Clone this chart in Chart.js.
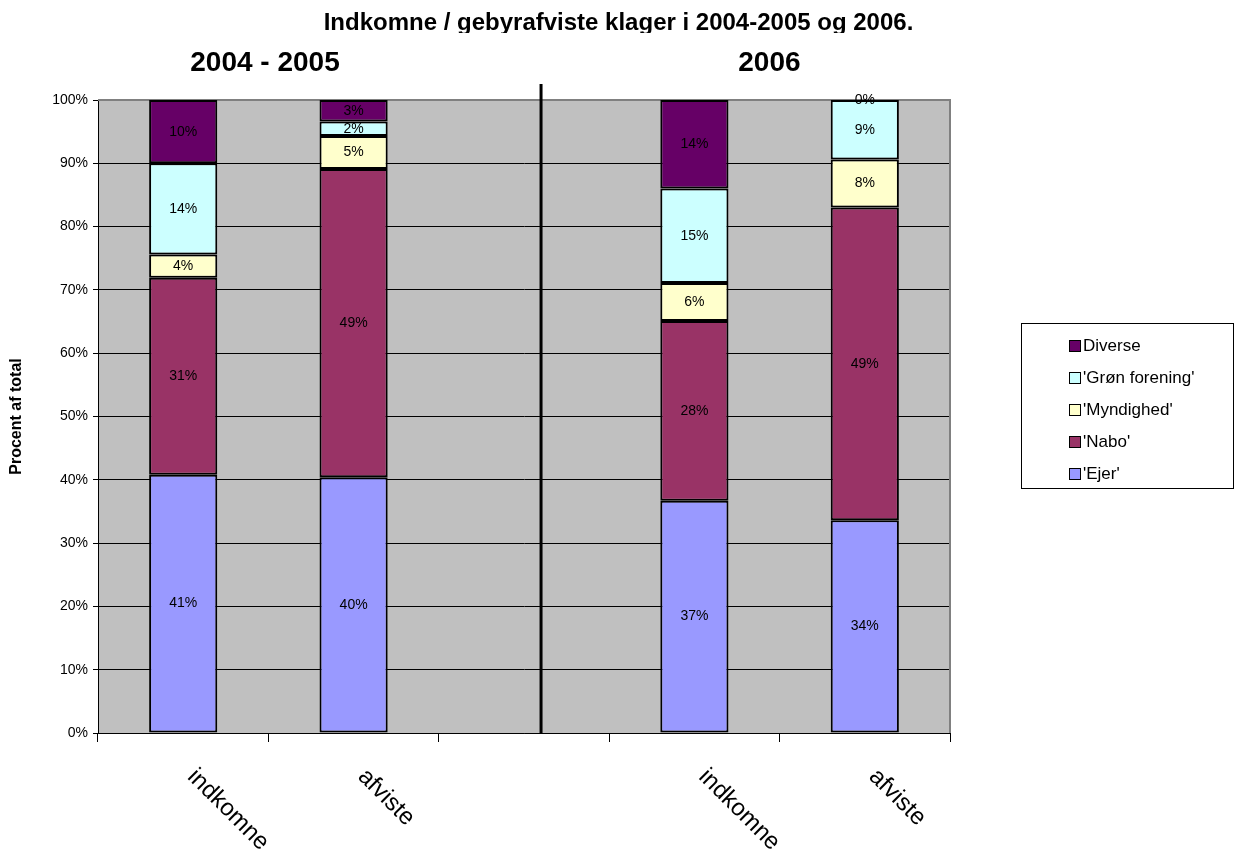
<!DOCTYPE html>
<html><head><meta charset="utf-8">
<script src="https://cdn.jsdelivr.net/npm/chart.js@4/dist/chart.umd.min.js"></script>
<style>html,body{margin:0;padding:0;background:#fff}#wrap{width:1235px;height:857px}</style>
</head><body><div id="wrap"><canvas id="c" width="1235" height="857"></canvas></div>
<script>
// ---- data ----
const categories = ['indkomne', 'afviste', '', 'indkomne', 'afviste'];
const groupLabels = ['2004 - 2005', '2006'];
const seriesNames = ["'Ejer'", "'Nabo'", "'Myndighed'", "'Grøn forening'", 'Diverse'];
const ejer      = [40.8, 40.4, null, 36.7, 33.6];
const nabo      = [31.1, 48.7, null, 28.4, 49.4];
const myndighed = [3.7,  5.2,  null, 6.0,  7.6];
const groen     = [14.4, 2.3,  null, 14.9, 9.4];
const diverse   = [10.0, 3.4,  null, 14.0, 0.0];
const yTickValues = [0, 10, 20, 30, 40, 50, 60, 70, 80, 90, 100];
const titleText = 'Indkomne / gebyrafviste klager i 2004-2005 og 2006.';
const yAxisTitle = 'Procent af total';

// ---- styles / layout ----
const colors = ['#9999FF', '#993366', '#FFFFCC', '#CCFFFF', '#660066'];
const groupLabelAt = [0.48, 3.44];   // position in category units
const dividerAt = 2.1;               // position in category units
const FONT = 'Arial, "Liberation Sans", sans-serif';

const seriesValues = [ejer, nabo, myndighed, groen, diverse];
const datasets = seriesValues.map((vals, i) => ({
  label: seriesNames[i],
  data: vals,
  backgroundColor: colors[i],
  borderColor: '#000',
  borderWidth: 2,
  borderSkipped: false,
  categoryPercentage: 0.4,
  barPercentage: 1.0
}));

const decorPlugin = {
  id: 'decor',
  beforeDraw(chart) {
    const {ctx, chartArea: a} = chart;
    ctx.save();
    ctx.fillStyle = '#C0C0C0';
    ctx.fillRect(a.left, a.top, a.right - a.left, a.bottom - a.top);
    ctx.restore();
  },
  beforeDatasetsDraw(chart) {
    const {ctx, chartArea: a} = chart;
    ctx.save();
    ctx.strokeStyle = '#808080';
    ctx.lineWidth = 2;
    ctx.beginPath();
    ctx.moveTo(a.left, a.top); ctx.lineTo(a.right, a.top); ctx.lineTo(a.right, a.bottom);
    ctx.stroke();
    ctx.restore();
  },
  afterDatasetsDraw(chart) {
    const {ctx} = chart;
    ctx.save();
    ctx.font = '14px ' + FONT;
    ctx.fillStyle = '#000';
    ctx.textAlign = 'center';
    ctx.textBaseline = 'middle';
    chart.data.datasets.forEach((ds, di) => {
      const meta = chart.getDatasetMeta(di);
      meta.data.forEach((el, i) => {
        const v = ds.data[i];
        if (v === null || v === undefined) return;
        ctx.fillText(Math.round(v) + '%', el.x, (el.y + el.base) / 2);
      });
    });
    ctx.restore();
  },
  afterDraw(chart) {
    const {ctx, chartArea: a} = chart;
    const xs = chart.scales.x;
    const step = (a.right - a.left) / categories.length;
    ctx.save();
    // divider
    const dx = xs.getPixelForValue(2) + (dividerAt - 2) * step;
    ctx.fillStyle = '#000';
    ctx.fillRect(dx - 1.5, a.top - 16, 3, a.bottom - a.top + 16);
    // title (bottom clipped like the original)
    ctx.save();
    ctx.beginPath();
    ctx.rect(0, 0, chart.width, 33);
    ctx.clip();
    ctx.textAlign = 'center';
    ctx.textBaseline = 'alphabetic';
    ctx.font = 'bold 24px ' + FONT;
    ctx.fillText(titleText, chart.width / 2 + 1, 30);
    ctx.restore();
    // group labels
    ctx.textAlign = 'center';
    ctx.textBaseline = 'middle';
    ctx.font = 'bold 28px ' + FONT;
    groupLabels.forEach((t, i) => {
      const gx = xs.getPixelForValue(0) + groupLabelAt[i] * step;
      ctx.fillText(t, gx, 63);
    });
    // y axis title
    ctx.save();
    ctx.translate(17, (a.top + a.bottom) / 2);
    ctx.rotate(-Math.PI / 2);
    ctx.font = 'bold 16px ' + FONT;
    ctx.fillText(yAxisTitle, 0, 0);
    ctx.restore();
    // x labels rotated
    ctx.font = '24px ' + FONT;
    ctx.textAlign = 'left';
    categories.forEach((c, i) => {
      if (!c) return;
      const x = xs.getPixelForValue(i);
      ctx.save();
      ctx.translate(x + 8, a.bottom + 40);
      ctx.rotate(Math.PI / 4);
      ctx.fillText(c, 0, 0);
      ctx.restore();
    });
    // legend
    ctx.strokeStyle = '#000';
    ctx.lineWidth = 1;
    ctx.strokeRect(1021.5, 323.5, 212, 165);
    ctx.font = '17px ' + FONT;
    ctx.textBaseline = 'middle';
    const n = chart.data.datasets.length;
    for (let k = 0; k < n; k++) {
      const ds = chart.data.datasets[n - 1 - k];
      const cy = 346 + k * 32;
      ctx.fillStyle = ds.backgroundColor;
      ctx.fillRect(1069, cy - 6, 11, 11);
      ctx.strokeRect(1069.5, cy - 5.5, 11, 11);
      ctx.fillStyle = '#000';
      ctx.fillText(ds.label, 1083, cy);
    }
    ctx.restore();
  }
};

new Chart(document.getElementById('c'), {
  type: 'bar',
  data: { labels: categories, datasets },
  options: {
    responsive: false,
    devicePixelRatio: 1,
    animation: false,
    layout: { padding: { top: 100, right: 285, bottom: 0, left: 0 } },
    plugins: { legend: { display: false }, tooltip: { enabled: false }, title: { display: false } },
    scales: {
      x: {
        stacked: true,
        offset: true,
        grid: { offset: true, drawOnChartArea: false, tickLength: 9, color: '#000', lineWidth: 1 },
        border: { display: true, color: '#000', width: 1 },
        ticks: { display: false },
        afterFit(scale) { scale.height = 124; }
      },
      y: {
        stacked: true,
        min: 0, max: 100,
        afterBuildTicks(scale) { scale.ticks = yTickValues.map(v => ({ value: v })); },
        grid: { color: '#000', lineWidth: 1, tickLength: 5, tickColor: '#000' },
        border: { display: true, color: '#000', width: 1 },
        ticks: { font: { size: 14, family: FONT }, color: '#000', padding: 5, callback: v => v + '%' },
        afterFit(scale) { scale.width = 98; }
      }
    }
  },
  plugins: [decorPlugin]
});
</script>
</body></html>
